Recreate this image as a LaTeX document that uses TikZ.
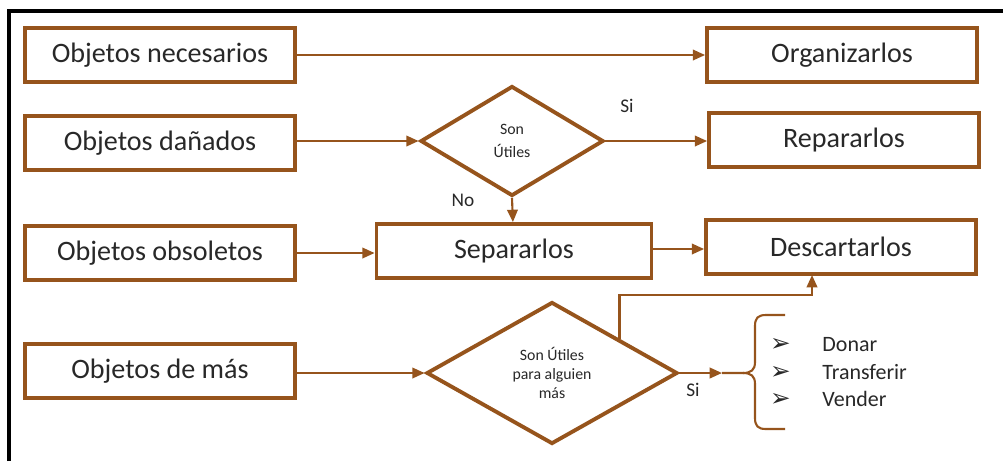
\documentclass[tikz,border=0pt]{standalone}
\usepackage{fontspec}
\setmainfont{Carlito}
\newfontfamily\dingfont{DejaVu Sans}
\definecolor{Micafe}{RGB}{150,84,28}
\definecolor{Mitexto}{RGB}{40,40,40}
\usetikzlibrary{calc, positioning, arrows.meta, shapes.geometric}

\begin{document}
\begin{tikzpicture}[x=0.02cm, y=-0.02cm,
    caja/.style={
        rectangle, draw=Micafe, line width=2.2pt, fill=white,
        minimum width=5.4cm, minimum height=1.08cm,
        text=Mitexto, font=\fontsize{16}{19}\selectfont},
    rombo/.style={
        diamond, draw=Micafe, line width=2.2pt, fill=white,
        inner sep=0pt, align=center,
        text=Mitexto, font=\fontsize{9}{11}\selectfont},
    flecha/.style={-{Triangle[length=7pt, width=6pt]}, line width=1.2pt, color=Micafe},
    linea/.style={line width=1.2pt, color=Micafe},
    etiq/.style={font=\fontsize{11}{13}\selectfont, text=Mitexto},
    opcion/.style={font=\fontsize{12.5}{15}\selectfont, text=Mitexto, anchor=west}]
  \useasboundingbox (0,0) rectangle (1003,461);
  % Marco
  \draw[line width=2.4pt, black] (9,461) -- (9,11) -- (1003,11);
  % Columna izquierda
  \node[caja] (nec) at (160,55)  {Objetos necesarios};
  \node[caja] (dan) at (160,143) {Objetos dañados};
  \node[caja] (obs) at (160,253) {Objetos obsoletos};
  \node[caja] (mas) at (160,371) {Objetos de más};
  % Decisiones y columna derecha
  \node[rombo, minimum width=3.66cm, minimum height=2.2cm] (util) at (512,141) {Son\\[2pt]Útiles};
  \node[rombo, minimum width=5.02cm, minimum height=2.84cm] (otro) at (552,373)
    {Son Útiles\\para alguien\\más};
  \node[caja, minimum width=5.5cm] (sep) at (514,251) {Separarlos};
  \node[caja] (org) at (842,55)  {Organizarlos};
  \node[caja] (rep) at (844,140) {Repararlos};
  \node[caja] (des) at (841,247) {Descartarlos};
  % Flechas
  \draw[flecha] (nec) -- (org);
  \draw[flecha] (dan.east |- util.west) -- (util.west);
  \draw[flecha] (util.east) -- (util.east -| rep.west);
  \draw[flecha] (util.south) -- (sep);
  \draw[flecha] (obs.east) -- (obs.east -| sep.west);
  \draw[flecha] (sep.east |- 0,249) -- (des.west |- 0,249);
  \draw[flecha] (mas.east |- otro.west) -- (otro.west);
  \coordinate (sube) at ($(otro.north)!0.53!(otro.east)$);
  \draw[flecha] (sube) |- (812,295) -- (812,275);
  % Llave con opciones
  \coordinate (entra) at (722,373);
  \coordinate (punta) at (743,373);
  \draw[flecha] (otro.east) -- (entra);
  \draw[linea] (entra) -- (punta)
    .. controls (751,373) and (755,370) .. (755,362) -- (755,326)
    .. controls (755,318) and (758,315) .. (766,315) -- (785,315);
  \draw[linea] (punta)
    .. controls (751,373) and (755,376) .. (755,384) -- (755,418)
    .. controls (755,426) and (758,429) .. (766,429) -- (785,429);
  \node[opcion] (don) at (764,345) {{\dingfont\fontsize{14}{15}\selectfont ➢}\hspace{18pt}Donar};
  \node[opcion] (tra) at (764,372) {{\dingfont\fontsize{14}{15}\selectfont ➢}\hspace{18pt}Transferir};
  \node[opcion] (ven) at (764,399) {{\dingfont\fontsize{14}{15}\selectfont ➢}\hspace{18pt}Vender};
  % Etiquetas
  \node[etiq] (si1) at (627,106) {Si};
  \node[etiq] (no1) at (463,200) {No};
  \node[etiq] (si2) at (693,390) {Si};
\end{tikzpicture}
\end{document}
